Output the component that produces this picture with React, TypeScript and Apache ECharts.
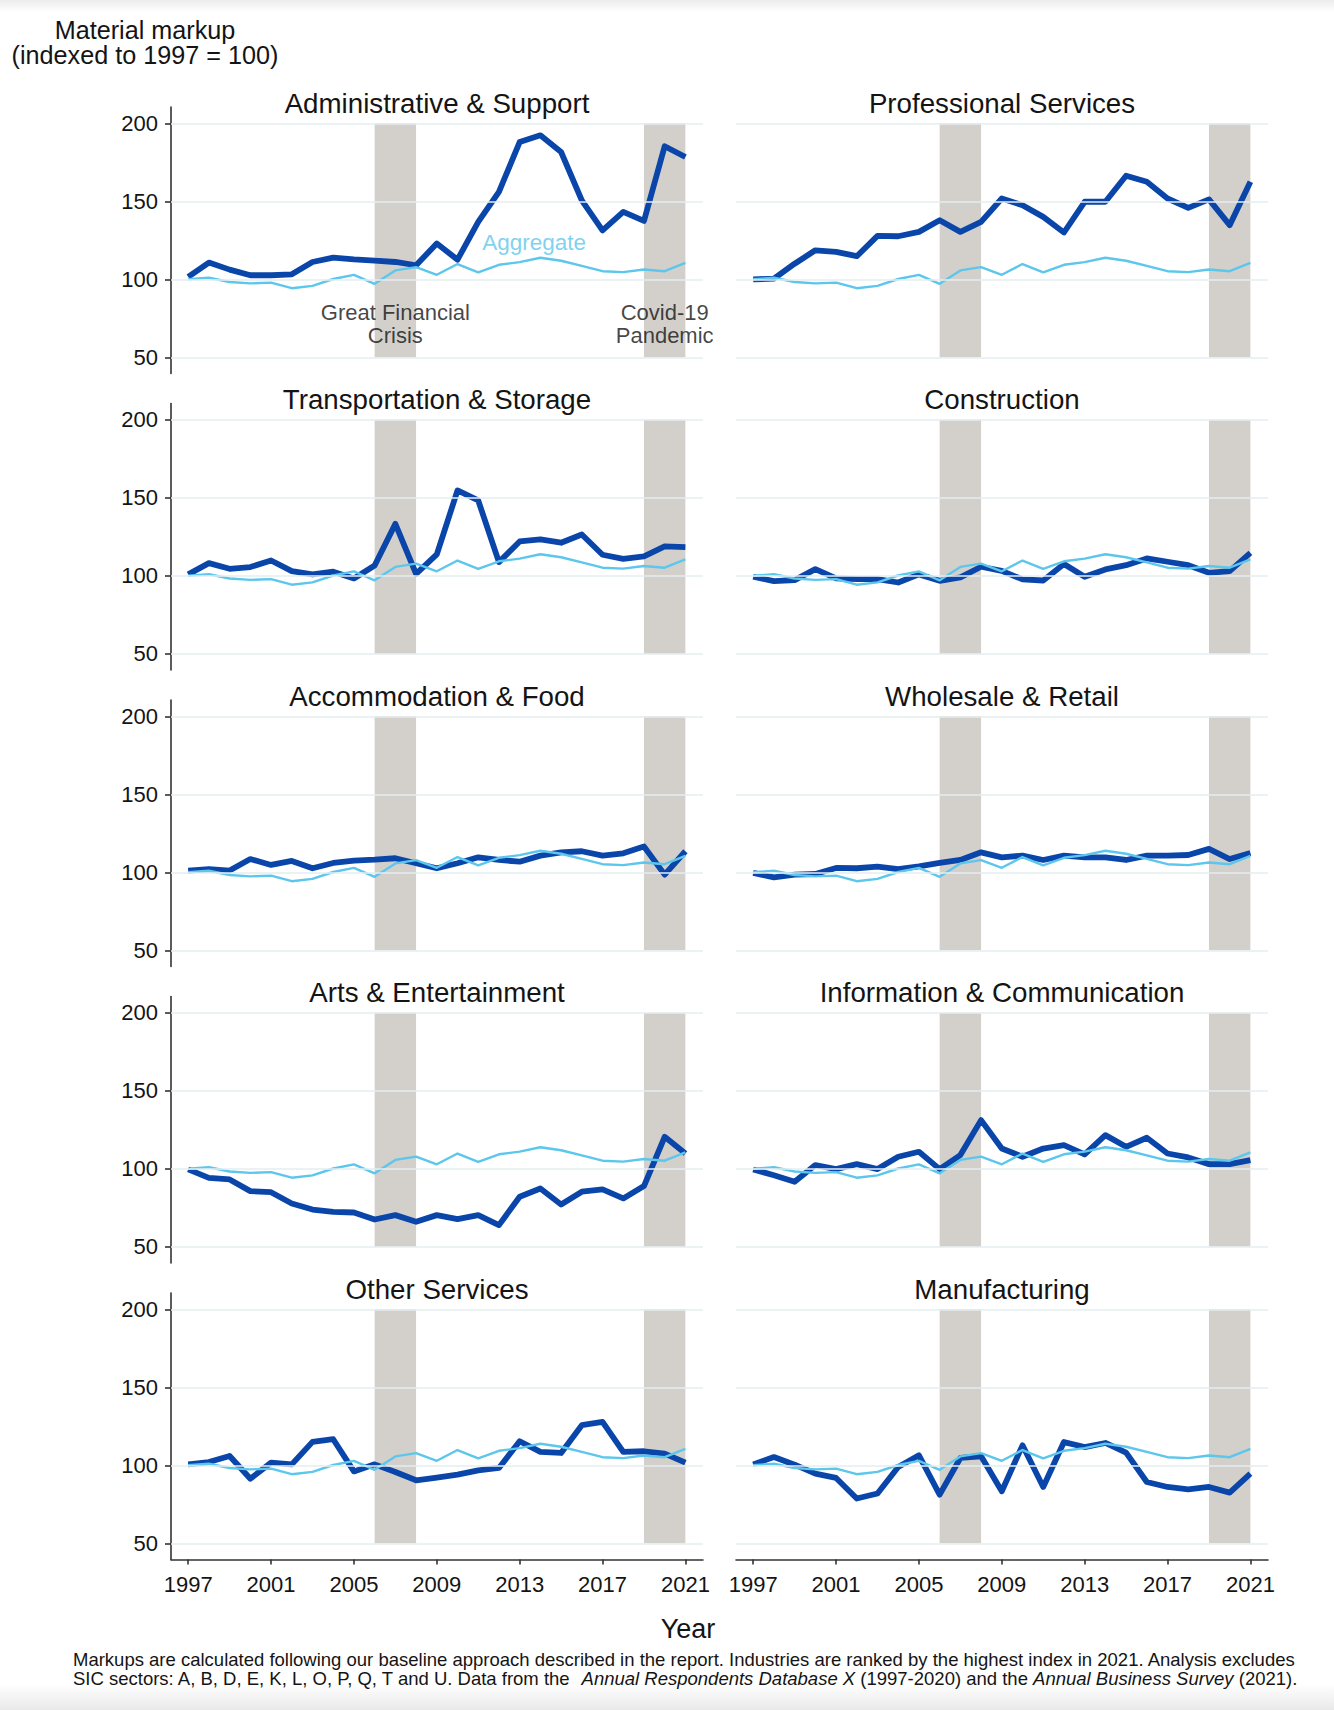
import React, { useEffect, useRef } from "react";
import * as echarts from "echarts";

const years = [1997, 1998, 1999, 2000, 2001, 2002, 2003, 2004, 2005, 2006, 2007, 2008, 2009, 2010, 2011, 2012, 2013, 2014, 2015, 2016, 2017, 2018, 2019, 2020, 2021];

const aggregate = [100, 101, 98.3, 97.4, 97.9, 94.3, 95.8, 100.2, 102.8, 97.1, 105.7, 107.8, 102.9, 109.8, 104.5, 109.3, 111, 113.8, 111.9, 108.6, 105.2, 104.6, 106.3, 105.2, 110.6];

const adminSupport = [101.5, 110.7, 106.2, 102.6, 102.6, 103.2, 111.1, 113.9, 112.8, 112, 111.1, 109, 122.9, 112.6, 136.8, 156, 188, 192.3, 181.6, 150.6, 131.4, 143.2, 137.4, 185.3, 178.4];
const professional = [100, 100.4, 110, 118.6, 117.6, 114.8, 127.8, 127.6, 130.4, 137.9, 130.4, 136.8, 151.8, 147.5, 140, 130, 149.7, 149.7, 166.4, 162.5, 151.8, 145.8, 151.2, 134.7, 162.5];
const transport = [100.9, 108.1, 104.5, 105.6, 109.8, 103, 100.9, 102.6, 98.3, 106.6, 133.3, 101.3, 113.7, 154.7, 148.3, 108.8, 122, 123.3, 121.2, 126.5, 113.5, 110.9, 112.4, 118.8, 118.4];
const construction = [99.4, 96.6, 97.2, 104.3, 98.3, 97.9, 97.9, 95.7, 100.9, 96.8, 99, 105.8, 103.2, 97.7, 97, 107.5, 99.4, 104.1, 106.8, 111.1, 109, 106.8, 101.9, 103, 114.7];
const accommodation = [101.1, 102.1, 101.1, 108.5, 104.7, 107.3, 102.6, 106, 107.5, 108.1, 109, 105.8, 102.6, 105.8, 109.6, 107.9, 106.8, 110.7, 112.8, 113.5, 110.7, 112.2, 116.5, 98.5, 113.5];
const wholesale = [99.6, 96.8, 98.5, 98.9, 102.8, 102.6, 103.6, 102.1, 103.8, 106, 107.9, 112.8, 109.6, 110.7, 107.9, 110.7, 109.6, 109.6, 107.9, 110.7, 110.7, 111.1, 115, 108.5, 112.4];
const arts = [99.6, 94.2, 93.2, 85.7, 85, 77.8, 73.9, 72.4, 72, 67.5, 70.3, 66, 70.3, 67.7, 70.3, 63.9, 82.1, 87.4, 77.1, 85.3, 86.8, 81, 88.9, 120.5, 109.8];
const infoComm = [99.6, 95.9, 91.7, 102.4, 99.8, 103, 99.8, 107.7, 110.9, 99.8, 108.8, 131.2, 113, 107.7, 113, 115.2, 109.2, 121.6, 114.1, 119.9, 109.8, 107.3, 103, 103, 105.6];
const otherServices = [100.6, 102.1, 106, 91.4, 101.7, 100.6, 115, 116.7, 96.1, 100.6, 95.7, 90.4, 92.1, 94, 96.8, 98.3, 115.4, 108.6, 107.9, 125.7, 127.8, 108.6, 109, 107.5, 101.7];
const manufacturing = [100.6, 105.3, 100.4, 94.7, 91.9, 78.7, 81.9, 98.9, 106.4, 81.2, 104.7, 105.8, 83.4, 112.8, 86.1, 114.9, 111.7, 114.3, 108.1, 89.3, 86.1, 84.6, 86.1, 82.5, 94.7];

const panelTitles = [
  "Administrative & Support", "Professional Services",
  "Transportation & Storage", "Construction",
  "Accommodation & Food", "Wholesale & Retail",
  "Arts & Entertainment", "Information & Communication",
  "Other Services", "Manufacturing",
];
const panelValues = [
  adminSupport, professional,
  transport, construction,
  accommodation, wholesale,
  arts, infoComm,
  otherServices, manufacturing,
];

const yTicks = [50, 100, 150, 200];
const xTicks = [1997, 2001, 2005, 2009, 2013, 2017, 2021];
const recessions = [[2006, 2008], [2019, 2021]];
const annotations = [
  { year: 2007, value: 71.5, text: "Great Financial\nCrisis" },
  { year: 2020, value: 71.5, text: "Covid-19\nPandemic" },
];
const aggregateLabel = { year: 2013.7, value: 123.7, text: "Aggregate" };

const FONT = '"Liberation Sans", Arial, Helvetica, sans-serif';
const DARK = "#0a46aa";
const LIGHT = "#5cc6ec";
const SHADE = "#d3d0cb";
const GRIDC = "#e4eef1";
const TEXT = "#141414";

const Y_MIN = 39.6;
const Y_MAX = 210.4;
const X_MIN = 1996.17;
const X_MAX = 2021.85;
const PX_PER_UNIT = 234 / 150;
const COL_LEFT = [171, 736];
const GRID_W = 532;
const ROW_Y200 = 123.3;
const ROW_PITCH = 296.5;

function buildOption() {
  const grids: any[] = [];
  const xAxes: any[] = [];
  const yAxes: any[] = [];
  const series: any[] = [];
  const graphics: any[] = [];

  panelTitles.forEach((title, i) => {
    const row = Math.floor(i / 2);
    const col = i % 2;
    const y200 = ROW_Y200 + row * ROW_PITCH;
    const top = y200 - (Y_MAX - 200) * PX_PER_UNIT;
    const height = (Y_MAX - Y_MIN) * PX_PER_UNIT;
    const isBottom = row === 4;
    const isLeft = col === 0;
    grids.push({ left: COL_LEFT[col], top, width: GRID_W, height, containLabel: false });

    xAxes.push({
      type: "value",
      gridIndex: i,
      min: X_MIN,
      max: X_MAX,
      show: true,
      axisLine: { show: isBottom, onZero: false, lineStyle: { color: "#333", width: 1.6 } },
      axisTick: { show: isBottom, length: 5, customValues: xTicks, lineStyle: { color: "#333", width: 1.6 } },
      axisLabel: {
        show: isBottom,
        customValues: xTicks,
        fontSize: 22,
        color: TEXT,
        fontFamily: FONT,
        margin: 14,
        formatter: (v: number) => String(Math.round(v)),
      },
      splitLine: { show: false },
    });

    yAxes.push({
      type: "value",
      gridIndex: i,
      min: Y_MIN,
      max: Y_MAX,
      axisLine: { show: isLeft, lineStyle: { color: "#333", width: 1.6 } },
      axisTick: { show: isLeft, length: 6, customValues: yTicks, lineStyle: { color: "#333", width: 1.6 } },
      axisLabel: {
        show: isLeft,
        customValues: yTicks,
        fontSize: 22,
        color: TEXT,
        fontFamily: FONT,
        margin: 13,
        formatter: (v: number) => String(Math.round(v)),
      },
      splitLine: { show: false },
    });

    // gridlines
    series.push({
      type: "line",
      xAxisIndex: i,
      yAxisIndex: i,
      data: [],
      z: 1,
      silent: true,
      markLine: {
        silent: true,
        symbol: ["none", "none"],
        label: { show: false },
        lineStyle: { color: GRIDC, width: 1.6, type: "solid" },
        data: yTicks.map((v) => ({ yAxis: v })),
      },
    });
    // recession shading
    series.push({
      type: "line",
      xAxisIndex: i,
      yAxisIndex: i,
      data: [],
      z: 2,
      silent: true,
      markArea: {
        silent: true,
        itemStyle: { color: SHADE, opacity: 1 },
        data: recessions.map((b) => [
          { xAxis: b[0], yAxis: yTicks[0] },
          { xAxis: b[1], yAxis: yTicks[yTicks.length - 1] },
        ]),
      },
    });
    series.push({
      type: "line",
      name: title,
      xAxisIndex: i,
      yAxisIndex: i,
      data: years.map((y, k) => [y, panelValues[i][k]]),
      showSymbol: false,
      symbol: "none",
      z: 3,
      lineStyle: { color: DARK, width: 5.8, join: "round" },
    });
    series.push({
      type: "line",
      name: "Aggregate",
      xAxisIndex: i,
      yAxisIndex: i,
      data: years.map((y, k) => [y, aggregate[k]]),
      showSymbol: false,
      symbol: "none",
      z: 4,
      lineStyle: { color: LIGHT, width: 2.4, join: "round" },
    });

    graphics.push({
      type: "text",
      x: COL_LEFT[col] + GRID_W / 2,
      y: y200 - 20,
      style: {
        text: title,
        textAlign: "center",
        textVerticalAlign: "middle",
        fontSize: 27.7,
        fontFamily: FONT,
        fill: TEXT,
      },
    });
  });

  // annotations in first panel
  series.push({
    type: "scatter",
    xAxisIndex: 0,
    yAxisIndex: 0,
    symbolSize: 0,
    z: 5,
    silent: true,
    data: annotations.map((a) => [a.year, a.value, a.text]),
    label: {
      show: true,
      position: "inside",
      formatter: (p: any) => p.value[2],
      fontSize: 22,
      lineHeight: 22.5,
      color: TEXT,
      fontFamily: FONT,
    },
  });
  series.push({
    type: "scatter",
    xAxisIndex: 0,
    yAxisIndex: 0,
    symbolSize: 0,
    z: 5,
    silent: true,
    data: [[aggregateLabel.year, aggregateLabel.value, aggregateLabel.text]],
    label: {
      show: true,
      position: "inside",
      formatter: (p: any) => p.value[2],
      fontSize: 22.5,
      color: LIGHT,
      fontFamily: FONT,
    },
  });

  graphics.push(
    {
      type: "rect",
      shape: { x: 0, y: 0, width: 1334, height: 12 },
      style: {
        fill: new echarts.graphic.LinearGradient(0, 0, 0, 1, [
          { offset: 0, color: "#ececec" },
          { offset: 1, color: "#ffffff" },
        ]),
      },
      z: -10,
    },
    {
      type: "rect",
      shape: { x: 0, y: 1684, width: 1334, height: 26 },
      style: {
        fill: new echarts.graphic.LinearGradient(0, 0, 0, 1, [
          { offset: 0, color: "#ffffff" },
          { offset: 1, color: "#e9e9e9" },
        ]),
      },
      z: -10,
    },
    {
      type: "text",
      x: 145,
      y: 30,
      style: { text: "Material markup", textAlign: "center", textVerticalAlign: "middle", fontSize: 25.2, fontFamily: FONT, fill: TEXT },
    },
    {
      type: "text",
      x: 145,
      y: 55,
      style: { text: "(indexed to 1997 = 100)", textAlign: "center", textVerticalAlign: "middle", fontSize: 25.2, fontFamily: FONT, fill: TEXT },
    },
    {
      type: "text",
      x: 688,
      y: 1629,
      style: { text: "Year", textAlign: "center", textVerticalAlign: "middle", fontSize: 27, fontFamily: FONT, fill: TEXT },
    },
    {
      type: "text",
      x: 73,
      y: 1659,
      style: {
        text: "Markups are calculated following our baseline approach described in the report. Industries are ranked by the highest index in 2021. Analysis excludes",
        textAlign: "left",
        textVerticalAlign: "middle",
        fontSize: 18.5,
        fontFamily: FONT,
        fill: TEXT,
      },
    },
    {
      type: "text",
      x: 73,
      y: 1678,
      style: {
        text: "SIC sectors: A, B, D, E, K, L, O, P, Q, T and U. Data from the  {i|Annual Respondents Database X} (1997-2020) and the {i|Annual Business Survey} (2021).",
        textAlign: "left",
        textVerticalAlign: "middle",
        fontSize: 18.5,
        fontFamily: FONT,
        fill: TEXT,
        rich: { i: { fontStyle: "italic", fontSize: 18.5, fontFamily: FONT, fill: TEXT } },
      },
    }
  );

  return {
    animation: false,
    backgroundColor: "#ffffff",
    grid: grids,
    xAxis: xAxes,
    yAxis: yAxes,
    series,
    graphic: graphics,
  };
}

export default function App() {
  const ref = useRef<HTMLDivElement>(null);
  useEffect(() => {
    if (!ref.current) return;
    const chart = echarts.init(ref.current, undefined, { renderer: "svg" });
    chart.setOption(buildOption() as any);
    return () => chart.dispose();
  }, []);
  return (
    <div
      ref={ref}
      style={{ position: "absolute", left: 0, top: 0, width: 1334, height: 1710 }}
    />
  );
}
